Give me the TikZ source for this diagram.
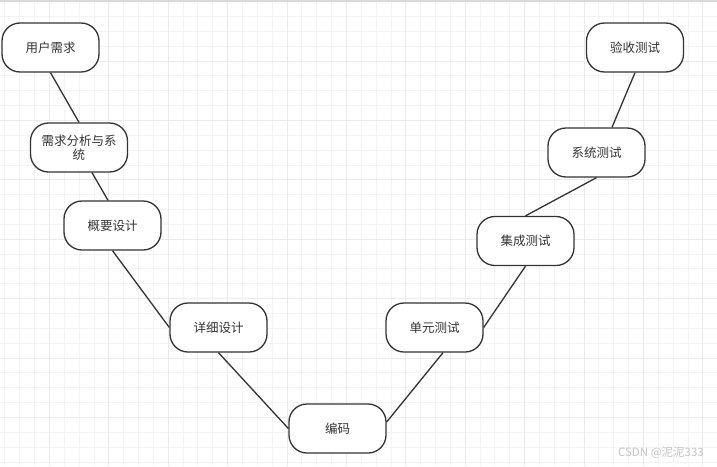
\documentclass[tikz,border=0pt]{standalone}
\usepackage{fontspec}
\usepackage{xcolor}
\usepackage{tikz}
\newfontfamily\cjk{Noto Sans CJK SC}
\definecolor{gridminor}{HTML}{F3F3F3}
\definecolor{gridmajor}{HTML}{EBEBEB}
\definecolor{edgecol}{HTML}{333333}
\definecolor{marktext}{HTML}{C4C4C4}

\begin{document}
\begin{tikzpicture}[x=1pt, y=-1pt, every node/.style={font=\cjk\fontsize{12.5}{14.5}\selectfont, text=edgecol, minimum height=49pt, minimum width=97pt, inner sep=0pt, align=center}]
\useasboundingbox (0,0) rectangle (717,466);
\fill[white] (0,0) rectangle (717,466);
% Grid
\foreach \i in {0,...,47} \draw[gridminor, line width=0.9pt] (4.85+14.85*\i,0) -- (4.85+14.85*\i,466);
\foreach \j in {0,...,31} \draw[gridminor, line width=0.9pt] (0,1.6+14.85*\j) -- (717,1.6+14.85*\j);
\foreach \i in {0,...,11} \draw[gridmajor, line width=1pt] (49.4+59.4*\i,0) -- (49.4+59.4*\i,466);
\foreach \j in {0,...,7} \draw[gridmajor, line width=1pt] (0,1.6+59.4*\j) -- (717,1.6+59.4*\j);
\fill[black!15] (0,0) rectangle (717,2);
% Nodes
\node[draw=edgecol, line width=1.3pt, rounded corners=18pt, fill=white] (yhxq) at (50.5,47.5) {用户需求};
\node[draw=edgecol, line width=1.3pt, rounded corners=18pt, fill=white] (xqfx) at (79,147.5) {需求分析与系\\统};
\node[draw=edgecol, line width=1.3pt, rounded corners=18pt, fill=white] (gysj) at (112.5,225.5) {概要设计};
\node[draw=edgecol, line width=1.3pt, rounded corners=18pt, fill=white] (xxsj) at (218.5,327.5) {详细设计};
\node[draw=edgecol, line width=1.3pt, rounded corners=18pt, fill=white] (bm) at (337.5,428.5) {编码};
\node[draw=edgecol, line width=1.3pt, rounded corners=18pt, fill=white] (dycs) at (434.5,327.5) {单元测试};
\node[draw=edgecol, line width=1.3pt, rounded corners=18pt, fill=white] (jccs) at (525.5,241) {集成测试};
\node[draw=edgecol, line width=1.3pt, rounded corners=18pt, fill=white] (xtcs) at (596.5,152.5) {系统测试};
\node[draw=edgecol, line width=1.3pt, rounded corners=18pt, fill=white] (yscs) at (635,47.5) {验收测试};
% Lines
\draw[edgecol, line width=1.3pt] (yhxq.south) -- (xqfx.north);
\draw[edgecol, line width=1.3pt] ([xshift=13pt]xqfx.south) -- ([xshift=-4.5pt]gysj.north);
\draw[edgecol, line width=1.3pt] (gysj.south) -- (xxsj.west);
\draw[edgecol, line width=1.3pt] (xxsj.south) -- (bm.west);
\draw[edgecol, line width=1.3pt] ([yshift=6.5pt]bm.east) -- ([xshift=8.5pt]dycs.south);
\draw[edgecol, line width=1.3pt] (dycs.east) -- (jccs.south);
\draw[edgecol, line width=1.3pt] (jccs.north) -- (xtcs.south);
\draw[edgecol, line width=1.3pt] ([xshift=15.5pt]xtcs.north) -- (yscs.south);
% Watermark
\node[font=\cjk\fontsize{11.5}{13}\selectfont, text=marktext, minimum width=0pt, minimum height=0pt, anchor=east] (mark) at (704,453) {CSDN @泥泥333};
\end{tikzpicture}
\end{document}
